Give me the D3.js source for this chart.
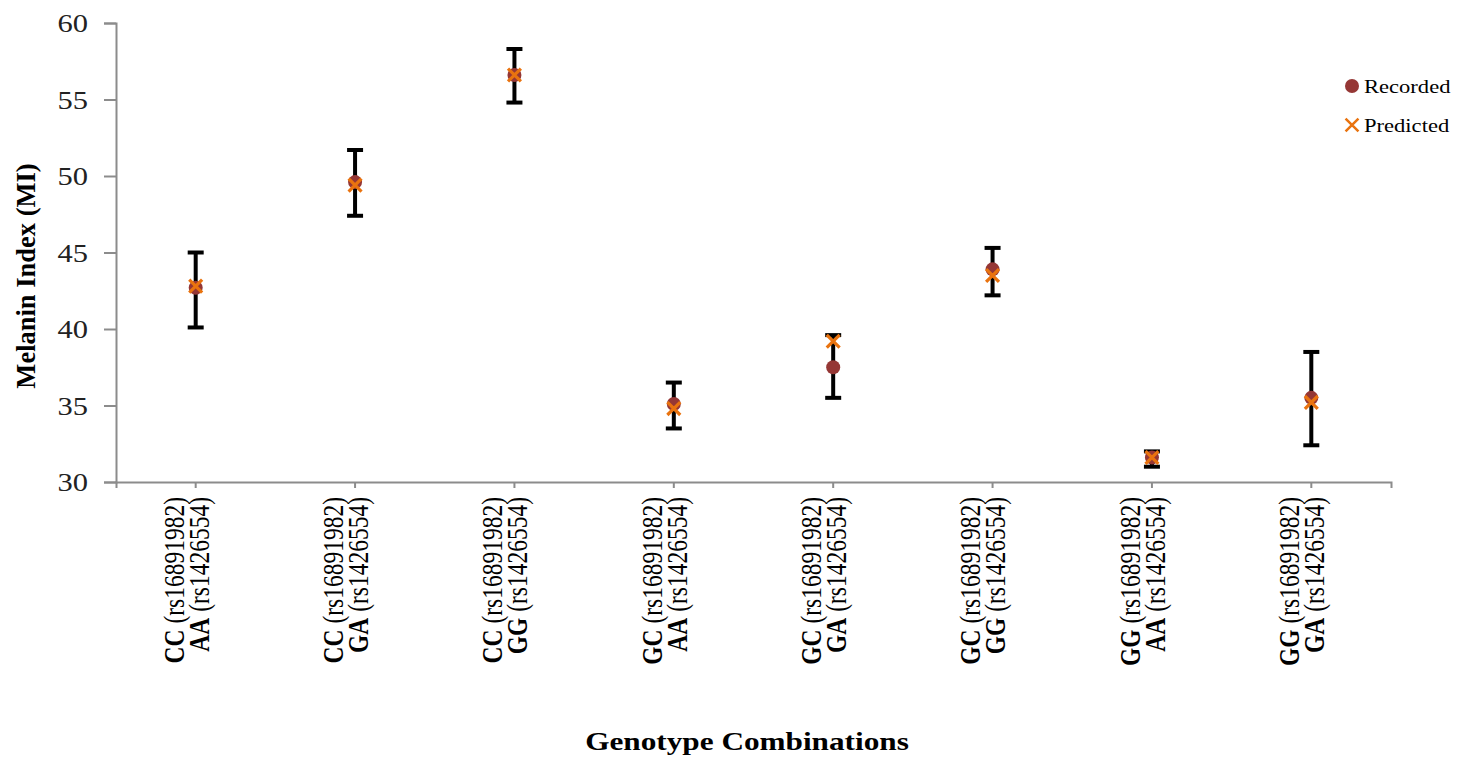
<!DOCTYPE html>
<html>
<head>
<meta charset="utf-8">
<script src="https://cdn.jsdelivr.net/npm/d3@7"></script>
<style>
  body { margin: 0; background: #fff; }
  svg { display: block; font-family: "Liberation Serif", "Times New Roman", serif; }
</style>
</head>
<body>
<div class="chart-container"></div>
<script>
// genotype pairs (first SNP rs16891982, second SNP rs1426554)
const genotype1 = ['CC', 'CC', 'CC', 'GC', 'GC', 'GC', 'GG', 'GG'];
const genotype2 = ['AA', 'GA', 'GG', 'AA', 'GA', 'GG', 'AA', 'GA'];
const recorded = [42.7, 49.6, 56.6, 35.1, 37.5, 43.9, 31.6, 35.5];
const predicted = [42.8, 49.4, 56.6, 34.8, 39.2, 43.5, 31.6, 35.2];
const errLow = [40.1, 47.4, 54.8, 33.5, 35.5, 42.2, 31.0, 32.4];
const errHigh = [45.0, 51.7, 58.3, 36.5, 39.6, 45.3, 32.0, 38.5];
const yTicks = [30, 35, 40, 45, 50, 55, 60];

const W = 1463, H = 758;
const margin = {top: 23, right: 72, bottom: 276, left: 116};
const width = W - margin.left - margin.right;
const height = H - margin.top - margin.bottom;
const stretch = 1.22; // the source picture is a bit wider than tall

const svg = d3.select('.chart-container').append('svg')
    .attr('width', W).attr('height', H);

const chart = svg.append('g')
    .attr('transform', 'translate(' + margin.left + ',' + margin.top + ')');

const idx = d3.range(genotype1.length);

const xScale = d3.scaleBand().domain(idx).range([0, width]);
const yScale = d3.scaleLinear().domain([30, 60]).range([height, 0]);

// -- axes
const yAxis = d3.axisLeft(yScale).tickValues(yTicks).tickSize(12).tickPadding(0);
const xAxis = d3.axisBottom(xScale).tickSize(6).tickSizeOuter(6).tickFormat('');

const gy = chart.append('g').attr('class', 'y-axis').call(yAxis);
gy.selectAll('path, line').attr('stroke', '#8c8c8c').attr('stroke-width', 2);
gy.selectAll('text')
    .attr('x', 0).attr('dy', '0.34em')
    .attr('transform', 'translate(-28,0) scale(' + stretch + ',1)')
    .attr('font-size', 25).attr('fill', '#222')
    .attr('font-family', '"Liberation Serif", serif');

const gx = chart.append('g').attr('class', 'x-axis')
    .attr('transform', 'translate(0,' + height + ')')
    .call(xAxis);
gx.selectAll('path, line').attr('stroke', '#8c8c8c').attr('stroke-width', 2);

// category labels, rotated, two lines each
const labels = chart.append('g').selectAll('.cat')
    .data(idx).enter()
    .append('g')
    .attr('class', 'cat')
    .attr('transform', d => 'translate(' + (xScale(d) + xScale.bandwidth() / 2) + ',' + (height + 15) + ') rotate(-90) scale(1,' + stretch + ')');

const line1 = labels.append('text')
    .attr('y', -10).attr('text-anchor', 'end').attr('font-size', 23.5).attr('fill', '#000');
line1.append('tspan').attr('font-weight', 'bold').text(d => genotype1[d]);
line1.append('tspan').text(' (rs16891982)');

const line2 = labels.append('text')
    .attr('y', 10.5).attr('text-anchor', 'end').attr('font-size', 23.5).attr('fill', '#000');
line2.append('tspan').attr('font-weight', 'bold').text(d => genotype2[d]);
line2.append('tspan').text(' (rs1426554)');

// -- error bars
const cx = d => xScale(d) + xScale.bandwidth() / 2;
const eb = chart.append('g').attr('class', 'errors');
eb.selectAll('.stem').data(idx).enter().append('line')
    .attr('x1', cx).attr('x2', cx)
    .attr('y1', d => yScale(errLow[d])).attr('y2', d => yScale(errHigh[d]))
    .attr('stroke', '#000').attr('stroke-width', 4);
eb.selectAll('.capHi').data(idx).enter().append('line')
    .attr('x1', d => cx(d) - 8).attr('x2', d => cx(d) + 8)
    .attr('y1', d => yScale(errHigh[d])).attr('y2', d => yScale(errHigh[d]))
    .attr('stroke', '#000').attr('stroke-width', 4);
eb.selectAll('.capLo').data(idx).enter().append('line')
    .attr('x1', d => cx(d) - 8).attr('x2', d => cx(d) + 8)
    .attr('y1', d => yScale(errLow[d])).attr('y2', d => yScale(errLow[d]))
    .attr('stroke', '#000').attr('stroke-width', 4);

// -- points
const red = '#953735', orange = '#e9730f';
chart.append('g').selectAll('circle')
    .data(idx).enter()
    .append('circle')
    .attr('cx', cx).attr('cy', d => yScale(recorded[d]))
    .attr('r', 7).attr('fill', red);

const cross = d3.symbol().type(d3.symbolX).size(110);
chart.append('g').selectAll('.pred')
    .data(idx).enter()
    .append('path')
    .attr('class', 'pred')
    .attr('d', cross)
    .attr('transform', d => 'translate(' + cx(d) + ',' + yScale(predicted[d]) + ')')
    .attr('fill', 'none').attr('stroke', orange).attr('stroke-width', 3.2);

// -- legend
const legend = svg.append('g').attr('transform', 'translate(1352,86)');
legend.append('circle').attr('r', 7).attr('fill', red);
legend.append('text').attr('transform', 'translate(12,7) scale(' + stretch + ',1)')
    .attr('font-size', 18.5).text('Recorded');
legend.append('path').attr('d', cross).attr('transform', 'translate(0,39)')
    .attr('fill', 'none').attr('stroke', orange).attr('stroke-width', 2.5);
legend.append('text').attr('transform', 'translate(12,46) scale(' + stretch + ',1)')
    .attr('font-size', 18.5).text('Predicted');

// -- axis titles
svg.append('text')
    .attr('transform', 'translate(35,' + 276 + ') rotate(-90)')
    .attr('text-anchor', 'middle').attr('font-size', 26.5).attr('font-weight', 'bold')
    .text('Melanin Index (MI)');

svg.append('text')
    .attr('transform', 'translate(747,750) scale(1.25,1)')
    .attr('text-anchor', 'middle').attr('font-size', 25).attr('font-weight', 'bold')
    .text('Genotype Combinations');
</script>
</body>
</html>
